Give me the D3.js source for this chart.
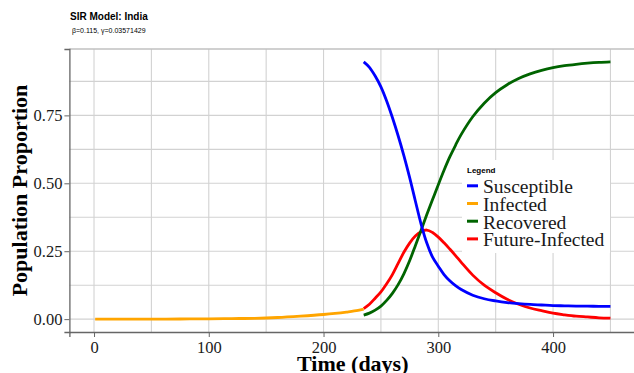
<!DOCTYPE html>
<html>
<head>
<meta charset="utf-8">
<script src="https://cdn.jsdelivr.net/npm/d3@7"></script>
<style>
  body { margin: 0; background: #fff; }
  svg { display: block; }
</style>
</head>
<body>
<div id="chart"></div>
<script>
// observed infected proportion, day 1 .. 235
const infectedDays = [1, 25, 50, 75, 100, 120, 140, 160, 180, 200, 210, 220, 230, 235];
const infectedValues = [0, 0, 0.0002, 0.0005, 0.001, 0.002, 0.003, 0.006, 0.011, 0.017, 0.021, 0.026, 0.032, 0.037];

// SIR projection, day 235 .. 450
const forecastDays = [235, 240, 245, 250, 255, 260, 265, 270, 275, 280, 285, 290, 295, 300, 305, 310, 315, 320,
  330, 340, 350, 360, 370, 380, 390, 400, 410, 420, 430, 440, 450];
const susceptible = [0.947, 0.927, 0.895, 0.855, 0.803, 0.742, 0.675, 0.602, 0.522, 0.435, 0.35, 0.28, 0.228, 0.195, 0.164, 0.141, 0.123, 0.109,
  0.088, 0.075, 0.067, 0.061, 0.057, 0.054, 0.052, 0.05, 0.049, 0.048, 0.048, 0.047, 0.047];
const futureInfected = [0.039, 0.055, 0.077, 0.10, 0.13, 0.164, 0.205, 0.246, 0.28, 0.306, 0.322, 0.328, 0.319, 0.302, 0.281, 0.258, 0.234, 0.209,
  0.162, 0.125, 0.097, 0.073, 0.055, 0.041, 0.031, 0.022, 0.016, 0.011, 0.008, 0.005, 0.004];
const recovered = [0.015, 0.022, 0.033, 0.048, 0.069, 0.095, 0.127, 0.167, 0.215, 0.27, 0.327, 0.385, 0.44, 0.495, 0.548, 0.597, 0.64, 0.68,
  0.745, 0.795, 0.834, 0.863, 0.886, 0.903, 0.916, 0.926, 0.933, 0.938, 0.942, 0.945, 0.947];

const xTicks = [0, 100, 200, 300, 400];
const xMinor = [50, 150, 250, 350, 450];
const yTicks = [0, 0.25, 0.5, 0.75];
const yMinor = [0.125, 0.375, 0.625, 0.875];

const legendLabels = ["Susceptible", "Infected", "Recovered", "Future-Infected"];
const legendColors = ["#0000ff", "#ffa500", "#006400", "#ff0000"];

const width = 634, height = 373;
const plot = { left: 69.4, right: 636.2, top: 49, bottom: 332 };

const svg = d3.select("#chart").append("svg")
  .attr("width", width)
  .attr("height", height);

// ggplot-style 5% expansion of the data range
const allDays = infectedDays.concat(forecastDays);
const allValues = infectedValues.concat(susceptible, futureInfected, recovered);
const xExt = d3.extent(allDays), yExt = d3.extent(allValues);
const xPad = (xExt[1] - xExt[0]) * 0.05, yPad = (yExt[1] - yExt[0]) * 0.05;

const x = d3.scaleLinear()
  .domain([xExt[0] - xPad, xExt[1] + xPad])
  .range([plot.left, plot.right]);
const y = d3.scaleLinear()
  .domain([yExt[0] - yPad, yExt[1] + yPad])
  .range([plot.bottom, plot.top]);

// panel
svg.append("rect")
  .attr("x", plot.left).attr("y", plot.top)
  .attr("width", plot.right - plot.left).attr("height", plot.bottom - plot.top)
  .attr("fill", "#fff");

const grid = svg.append("g").attr("stroke", "#d2d2d2").attr("stroke-width", 1.1);
grid.selectAll(".vx").data(xTicks.concat(xMinor)).enter().append("line")
  .attr("x1", d => x(d)).attr("x2", d => x(d))
  .attr("y1", plot.top).attr("y2", plot.bottom);
grid.selectAll(".hy").data(yTicks.concat(yMinor)).enter().append("line")
  .attr("x1", plot.left).attr("x2", plot.right)
  .attr("y1", d => y(d)).attr("y2", d => y(d));

// top border
svg.append("line")
  .attr("x1", plot.left).attr("x2", plot.right)
  .attr("y1", plot.top).attr("y2", plot.top)
  .attr("stroke", "#c0c0c0").attr("stroke-width", 1.5);

// axes
const xAxis = svg.append("g")
  .attr("transform", `translate(0,${plot.bottom})`)
  .call(d3.axisBottom(x).tickValues(xTicks).tickSize(5).tickPadding(3).tickFormat(d3.format("d")));
const yAxis = svg.append("g")
  .attr("transform", `translate(${plot.left},0)`)
  .call(d3.axisLeft(y).tickValues(yTicks).tickSize(5).tickPadding(2).tickFormat(d3.format(".2f")));

[xAxis, yAxis].forEach(a => {
  a.select(".domain").attr("stroke", "#666").attr("stroke-width", 1.3);
  a.selectAll(".tick line").attr("stroke", "#666");
  a.selectAll("text")
    .attr("fill", "#1a1a1a")
    .style("font-family", "'Liberation Serif', 'Times New Roman', serif")
    .style("font-size", "16.5px");
});
xAxis.selectAll("text").attr("dy", "0.8em");

// curves
const line = d3.line()
  .x(d => x(d[0]))
  .y(d => y(d[1]))
  .curve(d3.curveCatmullRom.alpha(0.5));

const series = [
  { days: forecastDays, values: futureInfected, color: legendColors[3] },
  { days: forecastDays, values: recovered, color: legendColors[2] },
  { days: forecastDays, values: susceptible, color: legendColors[0] },
  { days: infectedDays, values: infectedValues, color: legendColors[1] }
];

svg.append("g").selectAll("path").data(series).enter().append("path")
  .attr("d", s => line(s.days.map((d, i) => [d, s.values[i]])))
  .attr("fill", "none")
  .attr("stroke", s => s.color)
  .attr("stroke-width", 2.8)
  .attr("stroke-linecap", "butt");

// legend
const legend = svg.append("g");
legend.append("rect")
  .attr("x", 462).attr("y", 160)
  .attr("width", 148).attr("height", 93)
  .attr("fill", "#fff");
legend.append("text")
  .attr("x", 467).attr("y", 173)
  .style("font-family", "'Liberation Sans', Arial, sans-serif")
  .style("font-size", "8px")
  .style("font-weight", "bold")
  .text("Legend");
const items = legend.selectAll(".item").data(legendLabels).enter().append("g")
  .attr("transform", (d, i) => `translate(0,${193.3 + i * 17.7})`);
items.append("line")
  .attr("x1", 467).attr("x2", 478)
  .attr("y1", -7.5).attr("y2", -7.5)
  .attr("stroke", (d, i) => legendColors[i])
  .attr("stroke-width", 3);
items.append("text")
  .attr("x", 483).attr("y", 0)
  .attr("fill", "#1a1a1a")
  .style("font-family", "'Liberation Serif', 'Times New Roman', serif")
  .style("font-size", "19.5px")
  .text(d => d);

// titles
svg.append("text")
  .attr("x", 70).attr("y", 20)
  .style("font-family", "'Liberation Sans', Arial, sans-serif")
  .style("font-size", "10px")
  .style("font-weight", "bold")
  .text("SIR Model: India");
svg.append("text")
  .attr("x", 72).attr("y", 33)
  .style("font-family", "'Liberation Sans', Arial, sans-serif")
  .style("font-size", "7px")
  .text("β=0.115,  γ=0.03571429");

svg.append("text")
  .attr("x", (plot.left + plot.right) / 2).attr("y", 371)
  .attr("text-anchor", "middle")
  .style("font-family", "'Liberation Serif', 'Times New Roman', serif")
  .style("font-size", "22px")
  .style("font-weight", "bold")
  .text("Time (days)");

svg.append("text")
  .attr("transform", `translate(27,${(plot.top + plot.bottom) / 2}) rotate(-90)`)
  .attr("text-anchor", "middle")
  .style("font-family", "'Liberation Serif', 'Times New Roman', serif")
  .style("font-size", "22px")
  .style("font-weight", "bold")
  .text("Population Proportion");
</script>
</body>
</html>
